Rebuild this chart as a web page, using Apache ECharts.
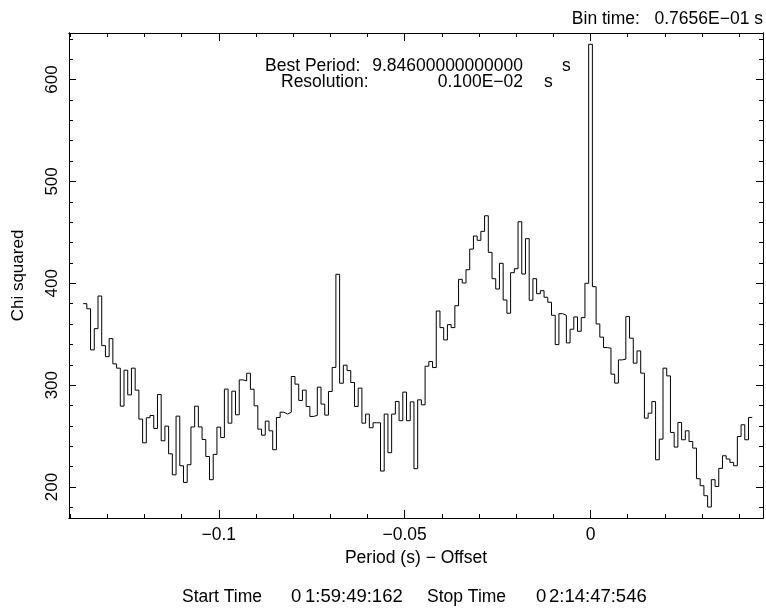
<!DOCTYPE html>
<html>
<head>
<meta charset="utf-8">
<script src="https://cdn.jsdelivr.net/npm/echarts@6/dist/echarts.min.js"></script>
<style>
  html, body { margin: 0; padding: 0; background: #fff; }
  #chart { width: 766px; height: 609px; }
</style>
</head>
<body>
<div id="chart"></div>
<script>
// Period search: chi squared against trial period offset, one bin per 0.001 s
const periodStart = -0.136;   // centre of the first trial period bin (s)
const periodStep = 0.001;     // period resolution (s)

const chiSquared = [
  380, 375, 334.6, 355.5, 387.5, 338.8, 328, 345.7, 320.9, 316.7,
  279.4, 314.7, 290.5, 316.7, 295.1, 266.7, 243.4, 268, 270.2, 257.5,
  290.8, 245.4, 259.8, 232.6, 212, 269.6, 220.9, 204.5, 221.9, 259,
  279.4, 259, 246.7, 230, 207.2, 232, 258.8, 248.6, 296.1, 262.7,
  294.1, 270.9, 305.2, 304.2, 311.7, 296.0, 279.7, 256.8, 250.9, 264.7,
  255.2, 236.6, 268.3, 273.5, 271.6, 273.5, 308.5, 301.0, 285.0, 295.1,
  279.1, 269.3, 270.3, 298.0, 281.4, 270.6, 293.8, 317.4, 408.8, 301.9,
  319.6, 314.3, 302.6, 279.1, 297.1, 262.7, 271.6, 258.2, 263.1, 263.1,
  215.7, 271.6, 233.7, 271.6, 284.0, 265.1, 293.2, 265.1, 283.6, 218,
  285.6, 280.7, 318.6, 323.2, 317.3, 372.8, 356.5, 344.4, 359.4, 356.5,
  378, 403.9, 400.3, 413.3, 433.6, 446.4, 442.2, 451, 466.3, 430.4,
  404.5, 394.4, 419.6, 383.6, 370.6, 410.4, 414.3, 460.4, 409.1, 443.8,
  383.3, 404.5, 389.8, 392.7, 386.3, 381.4, 368.6, 339.8, 370.2, 368.6,
  341.5, 354.9, 367, 352.9, 366.3, 400, 634.6, 396.7, 360.1, 347.1,
  336.9, 336.3, 310.8, 302, 324.8, 325.5, 367.3, 346.1, 321.6, 333.6,
  311.8, 267.6, 272.5, 283.9, 226.8, 247, 316.7, 309.1, 253.6, 239.2,
  263.4, 246.4, 255.2, 244.7, 238.2, 208.2, 201.3, 191.5, 180.4, 207.2,
  200.6, 218.3, 230.7, 227.5, 224.2, 220.9, 249.6, 261.1, 246.4, 268.3
];

const xTickValues = [-0.1, -0.05, 0];
const xTickLabels = ['\u22120.1', '\u22120.05', '0'];
const yTickValues = [200, 300, 400, 500, 600];
const yTickLabels = ['200', '300', '400', '500', '600'];

const xRange = [-0.1403, 0.0464];
const yRange = [169.6, 645.7];

// minor tick positions: every 0.01 s and every 20 in chi squared
const xMinor = [];
for (let k = -14; k <= 4; k++) xMinor.push(+(k * 0.01).toFixed(2));
const yMinor = [];
for (let v = 180; v <= 640; v += 20) yMinor.push(v);

// histogram outline: left edge of every bin, then the right edge of the last one
const steps = chiSquared.map((v, i) => [periodStart + i * periodStep - periodStep / 2, v]);
steps.push([periodStart + (chiSquared.length - 1) * periodStep + periodStep / 2,
            chiSquared[chiSquared.length - 1]]);

const FONT = '"Liberation Sans", Arial, Helvetica, sans-serif';
const INK = '#000';

function xAxisDef(position, values, len, withLabels) {
  return {
    type: 'value', position: position, min: xRange[0], max: xRange[1],
    axisLine: { show: true, onZero: false, lineStyle: { color: INK, width: 1 } },
    axisTick: { show: true, inside: true, length: len, customValues: values,
                lineStyle: { color: INK, width: 1 } },
    axisLabel: withLabels ? {
      show: true, customValues: xTickValues, margin: 8, color: INK,
      fontFamily: FONT, fontSize: 17.5,
      formatter: v => xTickLabels[xTickValues.findIndex(t => Math.abs(t - v) < 1e-9)]
    } : { show: false },
    splitLine: { show: false }
  };
}

function yAxisDef(position, values, len, withLabels) {
  return {
    type: 'value', position: position, min: yRange[0], max: yRange[1],
    axisLine: { show: true, onZero: false, lineStyle: { color: INK, width: 1 } },
    axisTick: { show: true, inside: true, length: len, customValues: values,
                lineStyle: { color: INK, width: 1 } },
    axisLabel: withLabels ? {
      show: true, customValues: yTickValues, rotate: 90, margin: 8, color: INK,
      fontFamily: FONT, fontSize: 17,
      formatter: v => yTickLabels[yTickValues.indexOf(v)]
    } : { show: false },
    splitLine: { show: false }
  };
}

const chart = echarts.init(document.getElementById('chart'), null, { renderer: 'canvas' });

const xMain = xAxisDef('bottom', xTickValues, 8, true);
xMain.name = 'Period (s) \u2212 Offset';
xMain.nameLocation = 'middle';
xMain.nameGap = 26;
xMain.nameTextStyle = { color: INK, fontFamily: FONT, fontSize: 17.5 };

const yMain = yAxisDef('left', yTickValues, 7, true);
yMain.name = 'Chi squared';
yMain.nameLocation = 'middle';
yMain.nameRotate = 90;
yMain.nameGap = 42;
yMain.nameTextStyle = { color: INK, fontFamily: FONT, fontSize: 17 };

function label(text, x, y, align, size) {
  return { type: 'text', style: { text: text, x: x, y: y, align: align || 'left',
    verticalAlign: 'middle', fill: INK, font: (size || 17.5) + 'px ' + FONT } };
}

chart.setOption({
  animation: false,
  backgroundColor: '#fff',
  grid: { left: 69, top: 33, width: 694, height: 485, containLabel: false },
  xAxis: [
    xMain,
    xAxisDef('bottom', xMinor, 4, false),
    xAxisDef('top', xTickValues, 8, false),
    xAxisDef('top', xMinor, 4, false)
  ],
  yAxis: [
    yMain,
    yAxisDef('left', yMinor, 4, false),
    yAxisDef('right', yTickValues, 7, false),
    yAxisDef('right', yMinor, 4, false)
  ],
  series: [{
    type: 'line',
    xAxisIndex: 0,
    yAxisIndex: 0,
    data: steps,
    step: 'end',
    showSymbol: false,
    symbol: 'none',
    lineStyle: { color: INK, width: 1 },
    silent: true
  }],
  graphic: [
    label('Bin time:   0.7656E\u221201 s', 763, 19, 'right'),
    label('Best Period:', 265, 66),
    label('9.84600000000000', 523, 66, 'right'),
    label('s', 562, 66),
    label('Resolution:', 281, 82),
    label('0.100E\u221202', 523, 82, 'right'),
    label('s', 544, 82),
    label('Start Time', 182, 597),
    label('0', 291, 597, 'left', 18.5),
    label('1:59:49:162', 305, 597, 'left', 18.5),
    label('Stop Time', 427, 597),
    label('0', 536, 597, 'left', 18.5),
    label('2:14:47:546', 549, 597, 'left', 18.5)
  ]
});
</script>
</body>
</html>
